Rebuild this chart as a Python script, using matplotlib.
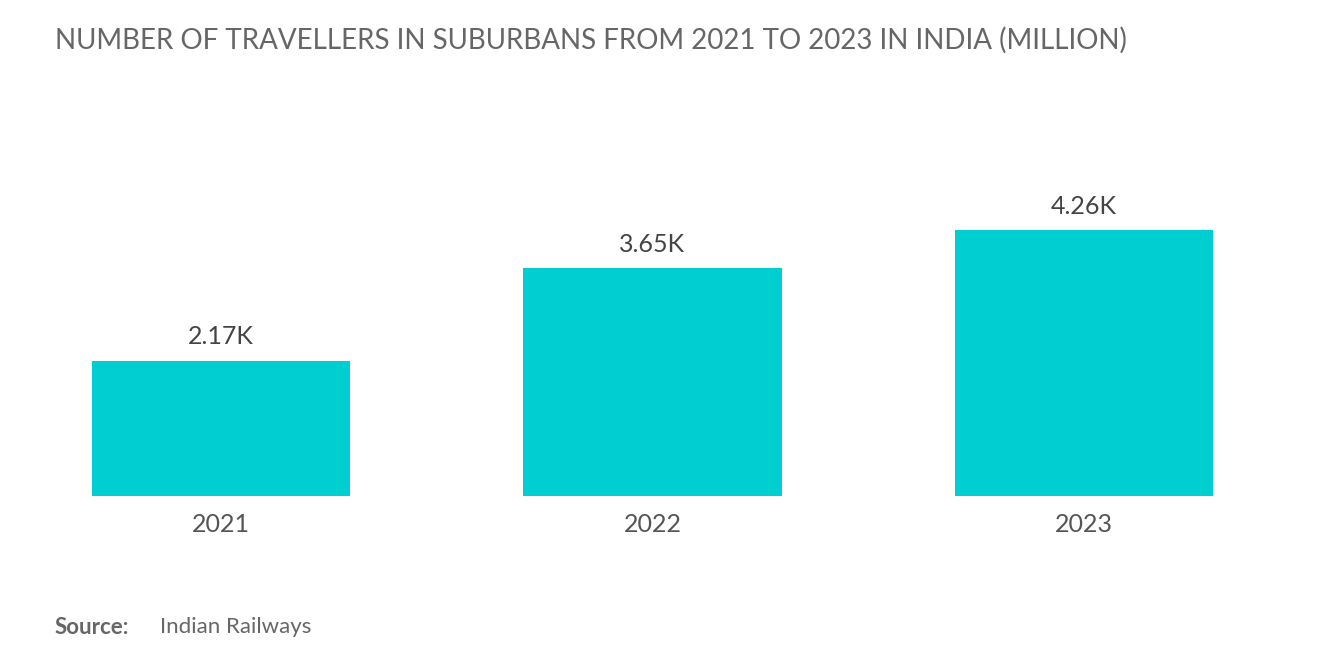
import matplotlib
matplotlib.use("Agg")
import matplotlib.pyplot as plt

years = ["2021", "2022", "2023"]
values = [2.17, 3.65, 4.26]
labels = ["2.17K", "3.65K", "4.26K"]

plt.rcParams['font.family'] = ['Lato', 'DejaVu Sans']
W, H = 1320, 665
fig = plt.figure(figsize=(W/100, H/100), dpi=100)
ax = fig.add_axes([5/W, (H-496)/H, 1295/W, 396/H])
x = range(len(years))
ax.bar(x, values, width=0.598, color="#00CED1")
for i, (v, l) in enumerate(zip(values, labels)):
    ax.text(i, v + 0.2, l, ha="center", va="bottom", fontsize=18, color="#444444")
ax.set_xlim(-0.5, 2.5)
ax.set_ylim(0, 6.35)
ax.set_xticks(list(x))
ax.set_xticklabels(years, fontsize=18, color="#555555")
ax.tick_params(axis="x", length=0, pad=12)
ax.set_yticks([])
for s in ax.spines.values():
    s.set_visible(False)
fig.text(55/W, 1-40/H, "NUMBER OF TRAVELLERS IN SUBURBANS FROM 2021 TO 2023 IN INDIA (MILLION)",
         fontsize=20, color="#666666", va="center", ha="left")
fig.text(55/W, 1-627/H, "Source:", fontsize=16, color="#666666", weight="bold", va="center")
fig.text(160/W, 1-627/H, "Indian Railways", fontsize=16, color="#666666", va="center")
fig.savefig("out.png", dpi=100)
